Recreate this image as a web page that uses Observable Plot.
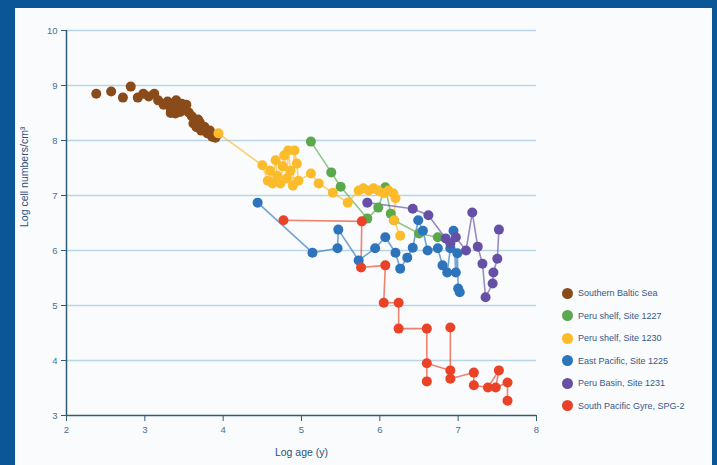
<!DOCTYPE html>
<html><head><meta charset="utf-8">
<script src="https://cdn.jsdelivr.net/npm/d3@7"></script>
<script src="https://cdn.jsdelivr.net/npm/@observablehq/plot@0.6"></script>
<style>
body{margin:0;}
#wrap{position:relative;width:717px;height:465px;background:#0b5697;overflow:hidden;font-family:"Liberation Sans",Arial,sans-serif;}
#panel{position:absolute;left:15px;top:8px;width:697px;height:457px;background:#fafbfd;}
#chart{position:absolute;left:0;top:0;}
#legend{position:absolute;left:562px;top:282px;}
.item{display:flex;align-items:center;height:22.5px;font-size:9px;color:#34598a;white-space:nowrap;}
.sw{width:11px;height:11px;border-radius:50%;margin-right:5px;}
</style></head>
<body>
<div id="wrap"><div id="panel"></div><div id="chart"></div><div id="legend"></div></div>
<script>
const seriesNames = ["Southern Baltic Sea","Peru shelf, Site 1227","Peru shelf, Site 1230","East Pacific, Site 1225","Peru Basin, Site 1231","South Pacific Gyre, SPG-2"];
const seriesColors = ["#8a4b1a","#5ba84d","#fbbb2b","#2d74bd","#6650a6","#ea4227"];
const xTicks = [2,3,4,5,6,7,8];
const yTicks = [3,4,5,6,7,8,9,10];
const yGrid = [4,5,6,7,8,9,10];
const xLabel = "Log age (y)";
const yLabel = "Log cell numbers/cm³";

// Southern Baltic Sea
const balticAge   = [2.38,2.57,2.72,2.82,2.91,2.98,3.05,3.12,3.17,3.24,3.29,3.33,3.37,3.40,3.43,3.47,3.49,3.53,3.56,3.33,3.39,3.45,3.60,3.62,3.66,3.70,3.72,3.76,3.80,3.83,3.86,3.90,3.93,3.68,3.78];
const balticCells = [8.85,8.89,8.78,8.98,8.78,8.85,8.80,8.85,8.73,8.65,8.71,8.58,8.67,8.73,8.55,8.67,8.60,8.65,8.51,8.50,8.49,8.52,8.44,8.31,8.24,8.33,8.18,8.25,8.13,8.18,8.07,8.05,8.11,8.38,8.20];
// Peru shelf, Site 1227
const s1227Age   = [5.12,5.38,5.50,5.84,5.98,6.07,6.14,6.18,6.50,6.74];
const s1227Cells = [7.98,7.42,7.16,6.58,6.78,7.15,6.67,6.55,6.31,6.24];
// Peru shelf, Site 1230
const s1230Age   = [3.94,4.50,4.57,4.60,4.63,4.67,4.69,4.73,4.76,4.78,4.81,4.83,4.86,4.89,4.91,4.94,4.96,5.12,5.22,5.40,5.59,5.73,5.79,5.86,5.92,5.98,6.05,6.11,6.17,6.20,6.18,6.26];
const s1230Cells = [8.13,7.55,7.27,7.45,7.22,7.64,7.36,7.22,7.53,7.73,7.31,7.82,7.45,7.18,7.82,7.58,7.27,7.40,7.22,7.05,6.87,7.09,7.13,7.09,7.13,7.09,7.04,7.09,7.04,6.95,6.55,6.27];
// East Pacific, Site 1225
const s1225Age   = [4.44,5.14,5.46,5.47,5.73,5.94,6.07,6.20,6.26,6.35,6.42,6.49,6.55,6.61,6.74,6.80,6.86,6.90,6.94,6.97,6.99,7.00,7.02];
const s1225Cells = [6.87,5.96,6.04,6.38,5.82,6.04,6.24,5.96,5.67,5.87,6.05,6.55,6.36,6.00,6.04,5.73,5.60,6.04,6.36,5.60,5.95,5.31,5.24];
// Peru Basin, Site 1231
const s1231Age   = [5.84,6.42,6.62,6.84,6.90,6.97,7.10,7.18,7.25,7.31,7.35,7.44,7.45,7.50,7.52];
const s1231Cells = [6.87,6.76,6.64,6.22,6.13,6.24,6.00,6.69,6.07,5.76,5.15,5.40,5.60,5.85,6.38];
// South Pacific Gyre, SPG-2
const spgAge   = [4.77,5.77,5.76,6.07,6.05,6.24,6.24,6.60,6.60,6.60,6.90,6.90,6.90,7.20,7.20,7.38,7.52,7.48,7.63,7.63];
const spgCells = [6.55,6.53,5.69,5.73,5.05,5.05,4.58,4.58,3.62,3.95,3.82,4.60,3.67,3.78,3.55,3.51,3.82,3.51,3.60,3.27];

const seriesAges  = [balticAge, s1227Age, s1230Age, s1225Age, s1231Age, spgAge];
const seriesCells = [balticCells, s1227Cells, s1230Cells, s1225Cells, s1231Cells, spgCells];
const drawOrder = [0,1,2,3,4,5];

const rows = [];
drawOrder.forEach(i => {
  seriesAges[i].forEach((a, j) => rows.push({series: seriesNames[i], age: a, cells: seriesCells[i][j], idx: i}));
});
const lineRows = rows.filter(d => d.idx !== 0);

const font = "Liberation Sans, Arial, sans-serif";
const chart = Plot.plot({
  width: 717, height: 465,
  marginLeft: 66, marginRight: 181, marginTop: 30, marginBottom: 50,
  style: {background: "transparent", fontFamily: font, fontSize: "9.5px", color: "#4b6f8f"},
  x: {domain: [2, 8]},
  y: {domain: [3, 10]},
  color: {domain: seriesNames, range: seriesColors},
  marks: [
    Plot.gridY(yGrid, {stroke: "#b8d5e5", strokeOpacity: 1, strokeWidth: 1.5}),
    Plot.axisY(yTicks, {tickSize: 5, tickPadding: 4, tickFormat: d3.format("d"), stroke: "#2e5d73", fill: "#4b6f8f", label: null}),
    Plot.axisX(xTicks, {tickSize: 6, tickPadding: 5, tickFormat: d3.format("d"), stroke: "#2e5d73", fill: "#4b6f8f", label: null}),
    Plot.ruleX([2], {stroke: "#2e5d73", strokeWidth: 1.5}),
    Plot.ruleY([3], {stroke: "#2e5d73", strokeWidth: 1.5}),
    Plot.line(lineRows, {x: "age", y: "cells", z: "series", stroke: "series", strokeWidth: 1.6, strokeOpacity: 0.65}),
    Plot.dot(rows, {x: "age", y: "cells", fill: "series", r: 5}),
    Plot.text([yLabel], {text: d => d, frameAnchor: "left", dx: -42, dy: 4, rotate: -90, fontSize: 10.5, fill: "#2d4f78"}),
    Plot.text([xLabel], {text: d => d, frameAnchor: "bottom", dy: 40, fontSize: 10.5, fill: "#2d4f78"})
  ]
});
document.getElementById("chart").appendChild(chart);

const legend = document.getElementById("legend");
seriesNames.forEach((n, i) => {
  const item = document.createElement("div");
  item.className = "item";
  const sw = document.createElement("span");
  sw.className = "sw";
  sw.style.background = seriesColors[i];
  item.appendChild(sw);
  item.appendChild(document.createTextNode(n));
  legend.appendChild(item);
});
</script>
</body></html>
